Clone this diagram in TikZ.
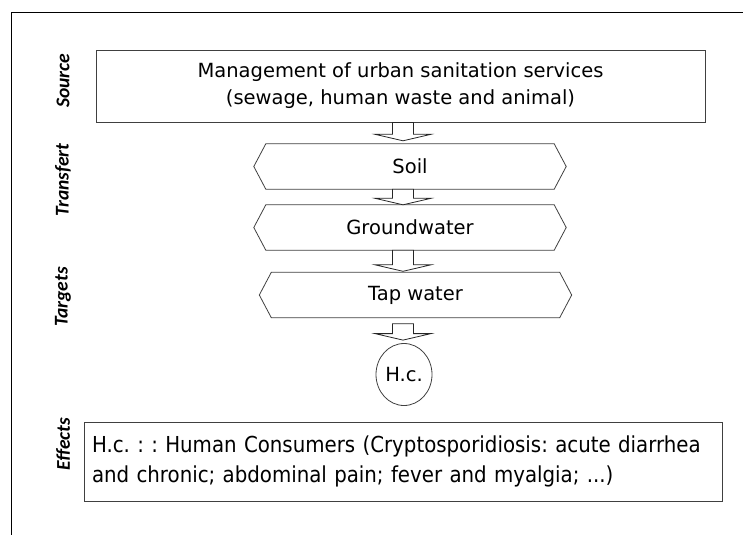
\documentclass[tikz,border=0pt]{standalone}
\usepackage{fontspec}
\setmainfont{DejaVu Sans}
\newfontfamily\condfont{DejaVu Sans Condensed}
\newfontfamily\labelfont{Carlito}
\usetikzlibrary{calc,shapes.geometric}
\frenchspacing

% hollow block arrow between two nodes, on the axis
\newcommand\flowarrow[4]{%
  \draw[flow] let \p1=(axis |- #1.south), \p2=(axis |- #2.north) in
    (\x1-10.5pt,\y1-#3) -- (\x1-10.5pt,\y2+#4+6.5pt) -- (\x1-28pt,\y2+#4+6.5pt)
    -- (\x1,\y2+#4) -- (\x1+28pt,\y2+#4+6.5pt) -- (\x1+10.5pt,\y2+#4+6.5pt)
    -- (\x1+10.5pt,\y1-#3) -- cycle;}

\begin{document}
\begin{tikzpicture}[x=1pt,y=-1pt,
    box/.style={draw=black!75, line width=0.8pt, inner sep=0pt},
    stage/.style={inner sep=0pt, minimum width=288pt, minimum height=45pt,
      font=\fontsize{19.5}{24}\selectfont},
    side/.style={rotate=90, font=\labelfont\bfseries\itshape\fontsize{19.5}{22}\selectfont},
    flow/.style={draw=black!85, fill=white, line width=0.8pt}]
  \useasboundingbox (0,0) rectangle (743,535);
  \draw[line width=0.8pt] (743,12) -- (11,12) -- (11,535);
  \coordinate (axis) at (403,0);

  % side labels
  \node[side] (lsource) at (63,81) {Source};
  \node[side] (ltransfert) at (63,180) {Transfert};
  \node[side] (ltargets) at (63,297) {Targets};
  \node[side] (leffects) at (63,444) {Effects};

  % chain
  \node[box, minimum width=609pt, minimum height=72pt, align=center,
    font=\fontsize{19.5}{27}\selectfont] (source) at (400.5,86)
    {Management of urban sanitation services\\(sewage, human waste and animal)};
  \node[stage] (soil) at (410,166.5) {Soil};
  \node[stage] (ground) at (410,227.5) {Groundwater};
  \node[stage] (tap) at (415.5,295) {Tap water};
  \foreach \n in {soil,ground,tap}
    \draw[draw=black!75, line width=0.8pt] ([xshift=-12pt]\n.west) -- (\n.north west)
      -- (\n.north east) -- ([xshift=12pt]\n.east) -- (\n.south east)
      -- (\n.south west) -- cycle;
  \node[draw=black!75, line width=0.8pt, ellipse, minimum width=56pt, minimum height=62pt,
    inner sep=0pt, font=\fontsize{19.5}{24}\selectfont] (hc) at (404,374.5) {H.c.};
  \node[box, text width=622pt, inner xsep=8pt, minimum height=79pt, align=left,
    font=\condfont\fontsize{22}{30}\selectfont] (effects) at (403,461.5)
    {H.c. : : Human Consumers (Cryptosporidiosis: acute diarrhea\\and chronic; abdominal pain; fever and myalgia; ...)};

  % arrows
  \flowarrow{source}{soil}{0pt}{3pt}
  \flowarrow{soil}{ground}{0pt}{0pt}
  \flowarrow{ground}{tap}{0pt}{1pt}
  \flowarrow{tap}{hc}{6pt}{3pt}
\end{tikzpicture}
\end{document}
